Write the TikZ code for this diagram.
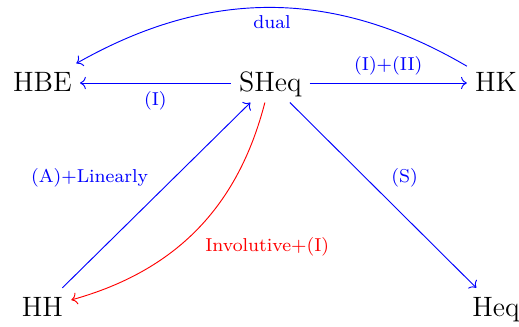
\documentclass[tikz,border=0pt]{standalone}
\usetikzlibrary{arrows.meta}

\begin{document}
\begin{tikzpicture}[
    obj/.style={font=\large, text height=2ex, text depth=.25ex},
    lbl/.style={font=\footnotesize, auto},
    imp/.style={blue, -{To}},
    inv/.style={red, -{To}},
  ]
  \useasboundingbox (-0.64,1.25) rectangle (7.176,-3.66);

  % ===== objects =====
  \node[obj] (HBE)  at (0,0)        {HBE};
  \node[obj] (SHeq) at (3.43,0)     {SHeq};
  \node[obj] (HK)   at (6.83,0)     {HK};
  \node[obj] (HH)   at (0,-3.38)    {HH};
  \node[obj] (Heq)  at (6.83,-3.38) {Heq};

  % ===== implications =====
  \draw[imp] (SHeq) -- node[lbl] {(I)} (HBE);
  \draw[imp] (SHeq) -- node[lbl] {(I)+(II)} (HK);
  \draw[imp] (HK) to[bend right=30] node[lbl] {dual} (HBE);
  \draw[imp] (HH) -- node[lbl] {(A)+Linearly} (SHeq);
  \draw[imp] (SHeq) -- node[lbl] {(S)} (Heq);
  \draw[inv] (SHeq) to[bend left=30] node[lbl] {Involutive+(I)} (HH);
\end{tikzpicture}
\end{document}
